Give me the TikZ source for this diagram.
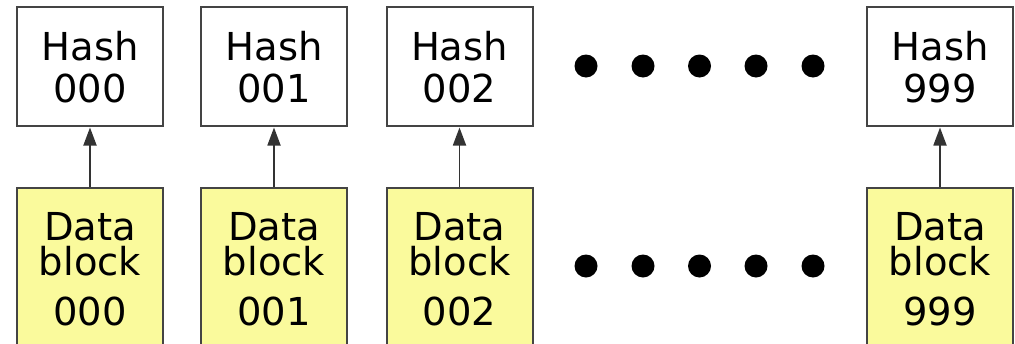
\documentclass[tikz,border=0pt]{standalone}
\usepackage{fontspec}
\setmainfont{DejaVu Sans}
\usetikzlibrary{arrows.meta}
\definecolor{blockyellow}{HTML}{FAFA9C}
\definecolor{edgegray}{HTML}{444444}
\tikzset{
  hashbox/.style={draw=edgegray, line width=2pt, fill=white, minimum width=146pt, minimum height=119pt, inner sep=0pt},
  databox/.style={draw=edgegray, line width=2pt, fill=blockyellow, minimum width=146pt, minimum height=172pt, inner sep=0pt},
  txt/.style={anchor=base, inner sep=0pt, font=\fontsize{38.5}{42}\selectfont},
  arr/.style={-{Triangle[length=18pt,width=13pt]}, line width=1.8pt, draw=black!80, shorten >=0.5pt},
  bigdot/.style={fill=black}
}
\begin{document}
\begin{tikzpicture}[x=1pt,y=-1pt]
\path[use as bounding box] (0,0) rectangle (1015,343);
\clip (0,0) rectangle (1015,343);
\foreach \x/\n in {90/000, 274/001, 459.5/002, 940/999}{
  \node[hashbox] (h\n) at (\x,66.5) {};
  \node[txt] (ha\n) at (\x,60) {Hash};
  \node[txt] (hb\n) at (\x,102) {\n};
  \node[databox] (d\n) at (\x,274) {};
  \node[txt] (da\n) at (\x,240) {Data};
  \node[txt] (db\n) at (\x,275) {block};
  \node[txt] (dc\n) at (\x,325) {\n};
  \draw[arr] (d\n) -- (h\n);
}
\foreach \x in {586,643,699.5,756,813}{
  \fill[bigdot] (\x,66) circle (11.5pt);
  \fill[bigdot] (\x,266) circle (11.5pt);
}
\end{tikzpicture}
\end{document}
